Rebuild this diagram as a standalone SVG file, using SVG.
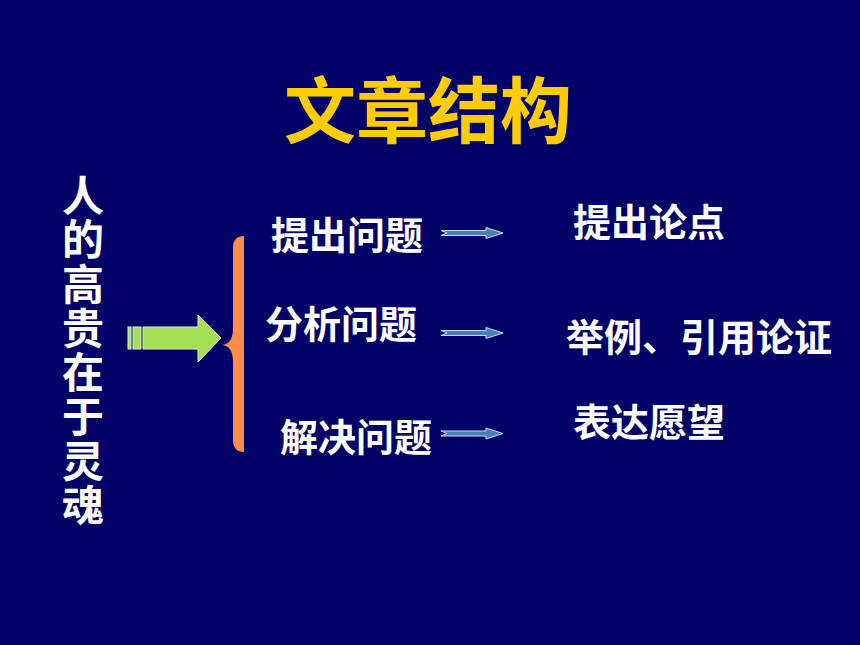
<svg xmlns="http://www.w3.org/2000/svg" width="860" height="645" viewBox="0 0 860 645">
<defs>
<style>
.t{font-family:"Noto Sans CJK SC","Noto Sans CJK JP",sans-serif;font-weight:bold;fill:#FFFFFF}
.title{font-family:"Noto Sans CJK SC","Noto Sans CJK JP",sans-serif;font-weight:bold;fill:#FFCC00;font-size:72px}
.lbl{font-size:38px}
.sa{fill:#4A7FB5;stroke:#C8DDF2;stroke-width:1}
</style>
<path id="small" d="M0,-2.5 L45,-2.5 L45,-5.5 L62,0 L45,5.5 L45,2.5 L0,2.5 L6,0 Z"/>
</defs>
<rect width="860" height="645" fill="#000066"/>
<g id="title"><text class="title" x="428" y="137" text-anchor="middle">文章结构</text></g>
<g id="vertical">
<text class="t" x="83" y="174" font-size="42" writing-mode="tb" letter-spacing="2.3">人的高贵在于灵魂</text>
</g>
<g id="bigarrow" fill="#A3E055" stroke="#DDEFD0" stroke-width="1">
<rect x="128" y="327" width="3" height="22"/>
<rect x="133" y="327" width="8" height="22"/>
<path d="M143,327 L198,327 L198,315 L221,338 L198,362 L198,349 L143,349 Z"/>
</g>
<g id="brace"><path d="M244,236 L244,452 Q233,452 233,440 L233,362 Q233,346 222,345 Q233,344 233,328 L233,248 Q233,236 244,236 Z" fill="#FF8C48"/></g>
<g id="n1"><text class="t lbl" x="271" y="249">提出问题</text></g>
<g id="n2"><text class="t lbl" x="265" y="338">分析问题</text></g>
<g id="n3"><text class="t lbl" x="280" y="451">解决问题</text></g>
<g id="r1"><text class="t lbl" x="573" y="236">提出论点</text></g>
<g id="r2"><text class="t lbl" x="566" y="351">举例、引用论证</text></g>
<g id="r3"><text class="t lbl" x="573" y="436">表达愿望</text></g>
<g id="connectors">
<use href="#small" class="sa" transform="translate(441,233)"/>
<use href="#small" class="sa" transform="translate(441,333)"/>
<use href="#small" class="sa" transform="translate(441,433.5)"/>
</g>
</svg>
